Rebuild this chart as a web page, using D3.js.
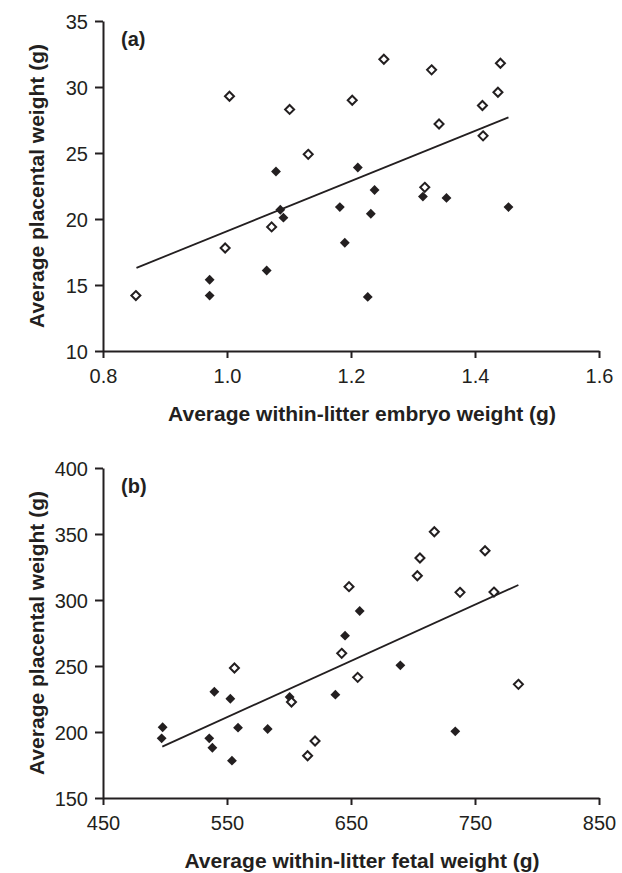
<!DOCTYPE html>
<html>
<head>
<meta charset="utf-8">
<script src="https://cdn.jsdelivr.net/npm/d3@7"></script>
<style>
  html, body { margin: 0; padding: 0; background: #fff; }
  svg { display: block; }
  text { font-family: "Liberation Sans", Arial, Helvetica, sans-serif; fill: #231f20; }
</style>
</head>
<body>
<svg id="chart" width="622" height="873"></svg>
<script>
// ---------- Panel (a) data ----------
const aOpenX = [0.853, 0.997, 1.004, 1.072, 1.101, 1.131, 1.202, 1.253, 1.319, 1.330, 1.342, 1.412, 1.413, 1.437, 1.441];
const aOpenY = [14.2, 17.8, 29.3, 19.4, 28.3, 24.9, 29.0, 32.1, 22.4, 31.3, 27.2, 28.6, 26.3, 29.6, 31.8];
const aFilledX = [0.972, 0.972, 1.064, 1.079, 1.086, 1.091, 1.182, 1.190, 1.211, 1.227, 1.232, 1.238, 1.316, 1.354, 1.454];
const aFilledY = [15.4, 14.2, 16.1, 23.6, 20.7, 20.1, 20.9, 18.2, 23.9, 14.1, 20.4, 22.2, 21.7, 21.6, 20.9];
const aFitX = [0.854, 1.454];
const aFitY = [16.3, 27.7];
const aXTicks = [0.8, 1.0, 1.2, 1.4, 1.6];
const aYTicks = [10, 15, 20, 25, 30, 35];

// ---------- Panel (b) data ----------
const bOpenX = [556, 602, 615, 621, 642.5, 648.4, 655.4, 703.5, 705.6, 717.2, 737.9, 758.1, 765.3, 785];
const bOpenY = [248.5, 222.7, 182, 193.2, 259.6, 310.1, 241.4, 318.4, 331.8, 351.7, 305.8, 337.3, 306, 236.1];
const bFilledX = [497.3, 498.1, 535.7, 538.2, 539.8, 552.7, 554, 558.9, 582.8, 600.5, 637.4, 645.2, 657, 689.8, 734.1];
const bFilledY = [195.2, 203.6, 195.2, 188.1, 230.5, 225.2, 178.3, 203.3, 202.3, 226.5, 228.3, 273, 291.7, 250.5, 200.5];
const bFitX = [497.8, 785];
const bFitY = [188.9, 311.4];
const bXTicks = [450, 550, 650, 750, 850];
const bYTicks = [150, 200, 250, 300, 350, 400];

const svg = d3.select("#chart");
const ink = "#231f20";

function panel(cfg) {
  const x = d3.scaleLinear().domain(cfg.xDomain).range([103, 599]);
  const y = d3.scaleLinear().domain(cfg.yDomain).range([cfg.bottom, cfg.top]);
  const g = svg.append("g");

  // axes
  const xAxis = d3.axisBottom(x).tickValues(cfg.xTicks).tickSize(7).tickSizeOuter(0)
    .tickFormat(cfg.xFmt);
  const yAxis = d3.axisLeft(y).tickValues(cfg.yTicks).tickSize(8).tickSizeOuter(0)
    .tickFormat(d3.format("d"));

  const gx = g.append("g").attr("transform", `translate(0,${cfg.bottom})`).call(xAxis);
  const gy = g.append("g").attr("transform", `translate(103,0)`).call(yAxis);
  [gx, gy].forEach(a => {
    a.selectAll("path.domain").attr("stroke", ink).attr("stroke-width", 2);
    a.selectAll(".tick line").attr("stroke", ink).attr("stroke-width", 2);
    a.selectAll(".tick text").attr("font-size", 20).attr("fill", ink)
      .style("font-family", '"Liberation Sans", Arial, sans-serif');
  });
  gx.selectAll(".tick text").attr("dy", null).attr("y", 32);
  gy.selectAll(".tick text").attr("x", -15).attr("dy", "0.36em");

  // regression line
  const fit = cfg.fitX.map((v, i) => [v, cfg.fitY[i]]);
  g.append("path").datum(fit)
    .attr("d", d3.line().x(d => x(d[0])).y(d => y(d[1])))
    .attr("fill", "none").attr("stroke", ink).attr("stroke-width", 1.8);

  const diamond = d3.symbol().type(d3.symbolDiamond2);
  // filled diamonds
  g.append("g").selectAll("path")
    .data(cfg.filledX.map((v, i) => [v, cfg.filledY[i]]))
    .join("path")
    .attr("d", diamond.size(62)())
    .attr("transform", d => `translate(${x(d[0])},${y(d[1])})`)
    .attr("fill", ink);
  // open diamonds
  g.append("g").selectAll("path")
    .data(cfg.openX.map((v, i) => [v, cfg.openY[i]]))
    .join("path")
    .attr("d", diamond.size(52)())
    .attr("transform", d => `translate(${x(d[0])},${y(d[1])})`)
    .attr("fill", "#fff").attr("stroke", ink).attr("stroke-width", 2);

  // panel label
  g.append("text").attr("x", 121).attr("y", cfg.top + 25)
    .attr("font-size", 20).attr("font-weight", "bold").text(cfg.label);

  // x title
  g.append("text").attr("x", 362).attr("y", cfg.bottom + 70)
    .attr("text-anchor", "middle").attr("font-size", 21).attr("font-weight", "bold")
    .text(cfg.xTitle);
  // y title
  g.append("text")
    .attr("transform", `translate(44,${(cfg.top + cfg.bottom) / 2}) rotate(-90)`)
    .attr("text-anchor", "middle").attr("font-size", 21).attr("font-weight", "bold")
    .text(cfg.yTitle);
}

panel({
  xDomain: [0.8, 1.6], yDomain: [10, 35], top: 21, bottom: 351,
  xTicks: aXTicks, yTicks: aYTicks, xFmt: d3.format(".1f"),
  openX: aOpenX, openY: aOpenY, filledX: aFilledX, filledY: aFilledY,
  fitX: aFitX, fitY: aFitY, label: "(a)",
  xTitle: "Average within-litter embryo weight (g)",
  yTitle: "Average placental weight (g)"
});

panel({
  xDomain: [450, 850], yDomain: [150, 400], top: 468, bottom: 798,
  xTicks: bXTicks, yTicks: bYTicks, xFmt: d3.format("d"),
  openX: bOpenX, openY: bOpenY, filledX: bFilledX, filledY: bFilledY,
  fitX: bFitX, fitY: bFitY, label: "(b)",
  xTitle: "Average within-litter fetal weight (g)",
  yTitle: "Average placental weight (g)"
});
</script>
</body>
</html>
